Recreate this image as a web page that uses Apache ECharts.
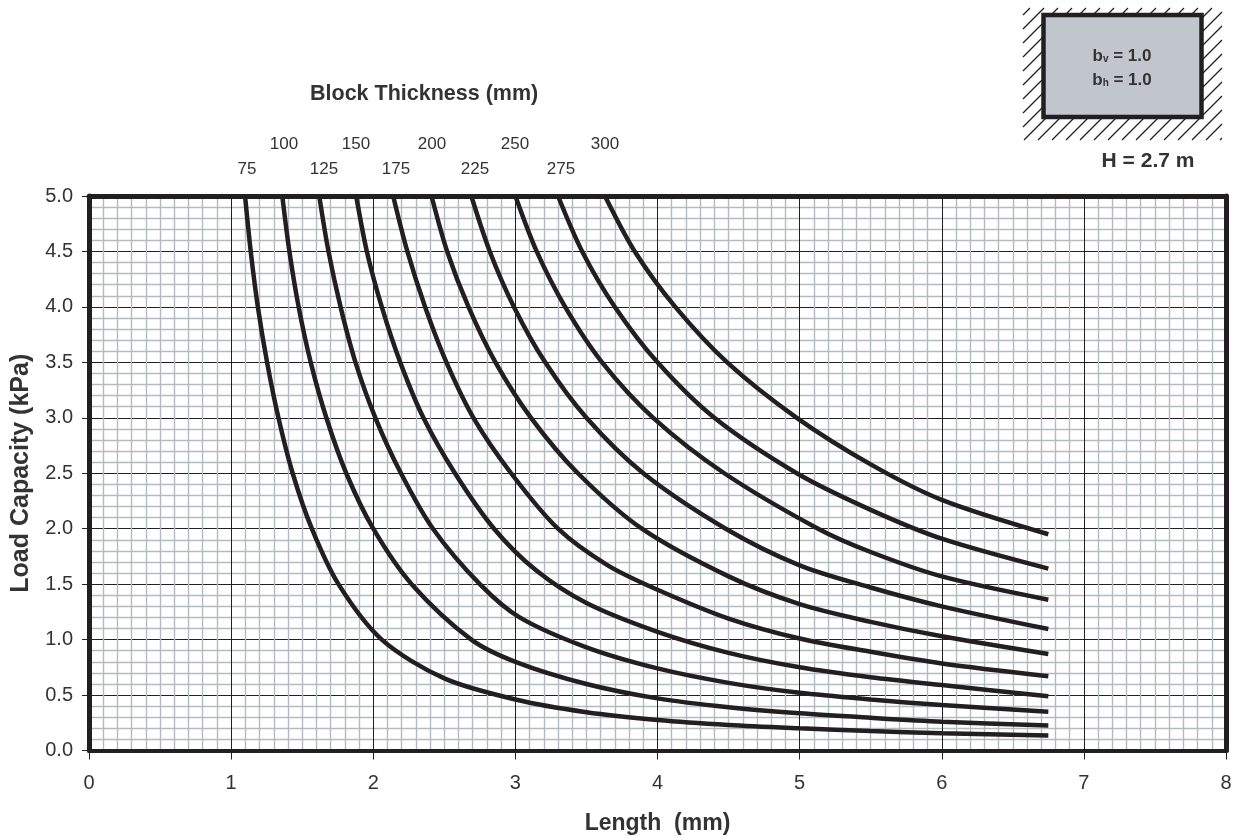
<!DOCTYPE html>
<html><head><meta charset="utf-8">
<style>html,body{margin:0;padding:0;background:#fff}#c{width:1240px;height:836px}</style>
<script src="https://cdn.jsdelivr.net/npm/echarts@6/dist/echarts.min.js"></script>
</head><body><div id="c"></div>
<script>
const thicknessLabels = ['75','100','125','150','175','200','225','250','275','300'];
const curve75  = [[1.098,5],[1.138,4.5],[1.188,4],[1.253,3.5],[1.333,3],[1.433,2.5],[1.568,2],[1.755,1.5],[2.06,1],[2.5,0.65],[3,0.46],[3.5,0.345],[4,0.275],[4.5,0.23],[5,0.2],[5.5,0.175],[6,0.155],[6.75,0.135]];
const curve100 = [[1.36,5],[1.41,4.5],[1.475,4],[1.56,3.5],[1.67,3],[1.81,2.5],[2,2],[2.27,1.5],[2.69,1],[3,0.8],[3.5,0.6],[4,0.47],[4.5,0.39],[5,0.335],[5.5,0.295],[6,0.26],[6.75,0.225]];
const curve125 = [[1.62,5],[1.685,4.5],[1.77,4],[1.875,3.5],[2.015,3],[2.195,2.5],[2.42,2],[2.75,1.5],[3.03,1.2],[3.5,0.93],[4,0.74],[4.5,0.61],[5,0.52],[5.5,0.46],[6,0.41],[6.75,0.35]];
const curve150 = [[1.88,5],[1.955,4.5],[2.06,4],[2.19,3.5],[2.353,3],[2.575,2.5],[2.85,2],[3.15,1.62],[3.5,1.33],[4,1.07],[4.5,0.88],[5,0.75],[5.5,0.66],[6,0.59],[6.75,0.49]];
const curve175 = [[2.14,5],[2.24,4.5],[2.365,4],[2.515,3.5],[2.705,3],[2.97,2.5],[3.3,2],[3.65,1.67],[4,1.45],[4.5,1.19],[5,1.01],[5.5,0.89],[6,0.785],[6.75,0.67]];
const curve200 = [[2.41,5],[2.52,4.5],[2.67,4],[2.86,3.5],[3.11,3],[3.44,2.5],[3.89,2],[4.5,1.57],[5,1.32],[5.5,1.16],[6,1.03],[6.75,0.87]];
const curve225 = [[2.69,5],[2.82,4.5],[2.99,4],[3.21,3.5],[3.5,3],[3.9,2.5],[4.48,2],[5,1.67],[5.5,1.47],[6,1.3],[6.75,1.095]];
const curve250 = [[3,5],[3.15,4.5],[3.35,4],[3.61,3.5],[3.97,3],[4.47,2.5],[5.13,2],[5.5,1.79],[6,1.57],[6.75,1.36]];
const curve275 = [[3.3,5],[3.47,4.5],[3.7,4],[4,3.5],[4.4,3],[4.98,2.5],[5.5,2.17],[6,1.91],[6.75,1.64]];
const curve300 = [[3.63,5],[3.84,4.5],[4.125,4],[4.49,3.5],[4.98,3],[5.5,2.58],[6,2.26],[6.75,1.95]];
const curves = [curve75,curve100,curve125,curve150,curve175,curve200,curve225,curve250,curve275,curve300];

const DARK='#231f20', TXT='#333333', FONT='"Liberation Sans", Arial, sans-serif';
const labelPos=[[247,169],[284,144],[324,169],[356,144],[396,169],[432,144],[475,169],[515,144],[561,169],[605,144]];
const g=[];
thicknessLabels.forEach((t,i)=>g.push({type:'text',x:labelPos[i][0],y:labelPos[i][1],style:{text:t,font:'17px '+FONT,fill:TXT,textAlign:'center',textVerticalAlign:'middle'}}));
const hx0=1023,hx1=1222,hy0=8,hy1=140,step=14;
for(let c=hx0+step/2-(hy1-hy0);c<hx1;c+=step){
  let x1=c,y1=hy1,x2=c+(hy1-hy0),y2=hy0;
  if(x1<hx0){y1-=hx0-x1;x1=hx0;}
  if(x2>hx1){y2+=x2-hx1;x2=hx1;}
  g.push({type:'line',shape:{x1,y1,x2,y2},style:{stroke:DARK,lineWidth:1.2}});
}
g.push({type:'rect',shape:{x:1043.5,y:15,width:158,height:102},style:{fill:'#c1c5cc',stroke:DARK,lineWidth:4.5}});
const rich={a:{fontFamily:FONT,fontWeight:'bold',fontSize:17,fill:TXT,color:TXT},s:{fontFamily:FONT,fontWeight:'bold',fontSize:10,fill:TXT,color:TXT,padding:[7,0,0,0]}};
g.push({type:'text',x:1122,y:56,style:{text:'{a|b}{s|v}{a| = 1.0}',align:'center',verticalAlign:'middle',rich}});
g.push({type:'text',x:1122,y:80,style:{text:'{a|b}{s|h}{a| = 1.0}',align:'center',verticalAlign:'middle',rich}});
g.push({type:'text',x:1148,y:161,style:{text:'H = 2.7 m',font:'bold 21px '+FONT,fill:TXT,textAlign:'center',textVerticalAlign:'middle'}});

const chart=echarts.init(document.getElementById('c'),null,{renderer:'canvas'});
chart.setOption({
  animation:false,backgroundColor:'#fff',
  title:{text:'Block Thickness (mm)',left:310,top:83,padding:0,textStyle:{fontFamily:FONT,fontSize:21.5,fontWeight:'bold',color:TXT}},
  grid:{left:89,right:14,top:196,height:554.5,show:false,outerBoundsMode:'none'},
  xAxis:[{type:'value',min:0,max:8,interval:1,position:'bottom',
    name:'Length  (mm)',nameLocation:'middle',nameGap:62,nameTextStyle:{fontFamily:FONT,fontSize:23,fontWeight:'bold',color:TXT},
    axisLine:{show:true,onZero:false,lineStyle:{color:DARK,width:4}},
    axisTick:{show:true,length:9,lineStyle:{color:DARK,width:1}},
    axisLabel:{fontFamily:FONT,fontSize:20,color:TXT,margin:23},
    splitLine:{show:true,lineStyle:{color:DARK,width:1}},
    minorTick:{show:false,splitNumber:10},
    minorSplitLine:{show:true,lineStyle:{color:'#b3bac1',width:1.4}}},
   {type:'value',min:0,max:8,interval:1,position:'top',axisLine:{show:true,onZero:false,lineStyle:{color:DARK,width:5}},axisTick:{show:false},axisLabel:{show:false},splitLine:{show:false}}],
  yAxis:[{type:'value',min:0,max:5,interval:0.5,position:'left',
    name:'Load Capacity (kPa)',nameLocation:'middle',nameGap:55,nameTextStyle:{fontFamily:FONT,fontSize:25,fontWeight:'bold',color:TXT},
    axisLine:{show:true,onZero:false,lineStyle:{color:DARK,width:5}},
    axisTick:{show:true,length:7,lineStyle:{color:DARK,width:1}},
    axisLabel:{fontFamily:FONT,fontSize:20,color:TXT,margin:16,formatter:v=>v.toFixed(1)},
    splitLine:{show:true,lineStyle:{color:DARK,width:1}},
    minorTick:{show:false,splitNumber:5},
    minorSplitLine:{show:true,lineStyle:{color:'#b3bac1',width:1.4}}},
   {type:'value',min:0,max:5,interval:0.5,position:'right',axisLine:{show:true,onZero:false,lineStyle:{color:DARK,width:5}},axisTick:{show:false},axisLabel:{show:false},splitLine:{show:false}}],
  series:curves.map((c,i)=>({type:'line',name:thicknessLabels[i],data:c,smooth:0.3,symbol:'none',clip:true,
    lineStyle:{color:DARK,width:4.5,cap:'butt'}})),
  graphic:g
});
</script></body></html>
